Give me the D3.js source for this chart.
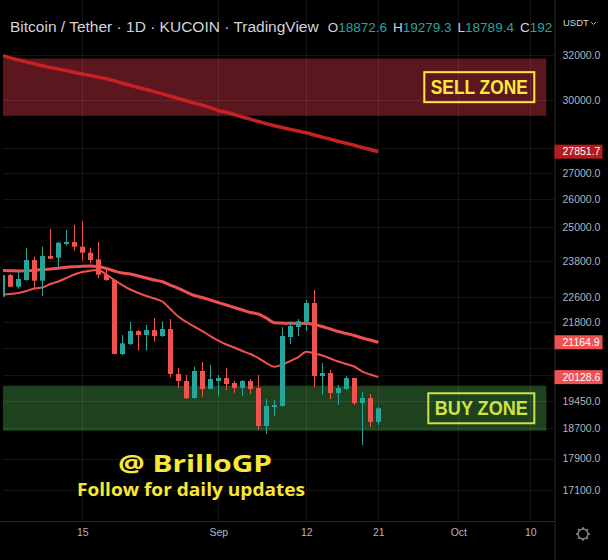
<!DOCTYPE html>
<html>
<head>
<meta charset="utf-8">
<script src="https://cdn.jsdelivr.net/npm/d3@7"></script>
<style>
  html, body { margin: 0; padding: 0; background: #000; }
  svg { display: block; }
</style>
</head>
<body>
<svg id="chart" width="608" height="560"></svg>
<script>
// daily candles, 5 Aug 2022 .. 21 Sep 2022
const firstDay = "2022-08-05";
const opens  = [22600, 23318, 22928, 23150, 23827, 23127, 23965, 23906, 24383, 24453, 24290, 24079, 23850, 23328, 23150, 20809,
                21111, 21510, 21387, 21541, 21356, 21572, 20218, 20015, 19532, 20306, 19786, 20015, 20102, 19958, 19814, 20015,
                19814, 18759, 19279, 19307, 21325, 21635, 21794, 22396, 20160, 20247, 19673, 19786, 20102, 19391, 19531, 18872.6];
const highs  = [23487, 23351, 23429, 24253, 23941, 24288, 24916, 24450, 24880, 25060, 25204, 24243, 24453, 23510, 23184, 21387,
                21801, 21540, 21697, 21917, 21812, 21885, 20394, 20195, 20432, 20571, 20482, 20189, 20403, 20015, 20044, 20073,
                20189, 19503, 19475, 21635, 21812, 21885, 22493, 22819, 20541, 20335, 19900, 20160, 20110, 19700, 19644, 19279.3];
const lows   = [22580, 22906, 22862, 23130, 22875, 22623, 23860, 23578, 24323, 24149, 23803, 23714, 23207, 23117, 20800, 20780,
                21080, 20908, 20908, 21181, 21325, 20122, 19814, 19510, 19520, 19568, 19780, 19596, 19757, 19673, 19587, 19644,
                18651, 18544, 19031, 19300, 21111, 21356, 21510, 19843, 19616, 19503, 19335, 19757, 19335, 18252, 18730, 18789.4];
const closes = [23318, 22928, 23184, 23827, 23127, 23965, 23872, 24428, 24453, 24288, 24079, 23827, 23328, 23150, 20809, 21132,
                21510, 21387, 21541, 21356, 21572, 20218, 20015, 19523, 20306, 19786, 20073, 20102, 19929, 19814, 20015, 19786,
                18759, 19307, 19335, 21356, 21666, 21812, 22396, 20160, 20247, 19673, 19814, 20102, 19391, 19531, 18872.6, 19245.0];

// moving averages
const maLong = [31980, 31880, 31790, 31700, 31610, 31520, 31440, 31370, 31300, 31220, 31150, 31080, 31010, 30940, 30840, 30740,
                30650, 30550, 30460, 30370, 30270, 30170, 30070, 29970, 29870, 29780, 29680, 29550, 29480, 29380, 29280, 29190,
                29090, 29000, 28910, 28840, 28760, 28690, 28620, 28530, 28440, 28360, 28270, 28190, 28110, 28020, 27940, 27851.7];
const maSlow = [23469, 23463, 23453, 23463, 23476, 23497, 23520, 23544, 23578, 23598, 23615, 23622, 23605, 23537, 23453, 23385,
                23351, 23284, 23217, 23150, 23094, 22984, 22875, 22754, 22639, 22574, 22493, 22412, 22331, 22251, 22171, 22091,
                22044, 21917, 21769, 21760, 21750, 21750, 21744, 21713, 21650, 21572, 21495, 21433, 21371, 21294, 21233, 21164.9];
const maFast = [22672, 22688, 22721, 22786, 22869, 22901, 23017, 23100, 23217, 23334, 23419, 23463, 23487, 23334, 23150, 22984,
                22836, 22721, 22623, 22541, 22444, 22203, 21964, 21791, 21650, 21510, 21356, 21218, 21096, 21005, 20899, 20809,
                20690, 20541, 20432, 20497, 20600, 20719, 20878, 20824, 20764, 20675, 20586, 20512, 20438, 20291, 20204, 20128.6];

const priceTicks = [32000, 30000, 28000, 27000, 26000, 25000, 23800, 22600, 21800, 21000, 20200, 19450, 18700, 17900, 17100];
const dateTicks = ["2022-08-15", "2022-09-01", "2022-09-12", "2022-09-21", "2022-10-01", "2022-10-10"];
const dateTickLabels = ["15", "Sep", "12", "21", "Oct", "10"];

const zoneNames = ["SELL ZONE", "BUY ZONE"];
const zoneTops = [31850, 19880];
const zoneBottoms = [29330, 18630];
const zoneEnd = "2022-10-12";

const parseDay = d3.utcParse("%Y-%m-%d");
const days = d3.utcDay.range(parseDay(firstDay), d3.utcDay.offset(parseDay(firstDay), opens.length));

const plot = { left: 3, right: 554.5, top: 0, bottom: 521 };
const up = "#26a69a", down = "#ef5350";

const svg = d3.select("#chart");
svg.append("rect").attr("width", 608).attr("height", 560).attr("fill", "#000");

const x = d3.scaleUtc()
    .domain([parseDay("2022-08-05"), parseDay("2022-10-10")])
    .range([2.3, 530.3]);
const y = d3.scaleLog()
    .domain([17100, 32000])
    .range([490.3, 55.3]);

svg.append("clipPath").attr("id", "plot-clip")
  .append("rect")
    .attr("x", plot.left).attr("y", plot.top)
    .attr("width", plot.right - plot.left).attr("height", plot.bottom - plot.top);

const g = svg.append("g").attr("clip-path", "url(#plot-clip)");

// zones
const zoneColors = ["#5c161e", "#1e421e"];
g.selectAll("rect.zone")
  .data(zoneNames)
  .join("rect")
    .attr("class", "zone")
    .attr("x", plot.left)
    .attr("width", (d, i) => x(parseDay(zoneEnd)) - plot.left)
    .attr("y", (d, i) => y(zoneTops[i]))
    .attr("height", (d, i) => y(zoneBottoms[i]) - y(zoneTops[i]))
    .attr("fill", (d, i) => zoneColors[i]);

// grid
g.selectAll("line.hgrid")
  .data(priceTicks)
  .join("line")
    .attr("class", "hgrid")
    .attr("x1", plot.left).attr("x2", plot.right)
    .attr("y1", d => Math.round(y(d)) + 0.5).attr("y2", d => Math.round(y(d)) + 0.5)
    .attr("stroke", "rgba(255,255,255,0.08)");
g.selectAll("line.vgrid")
  .data(dateTicks)
  .join("line")
    .attr("class", "vgrid")
    .attr("x1", d => Math.round(x(parseDay(d))) + 0.5).attr("x2", d => Math.round(x(parseDay(d))) + 0.5)
    .attr("y1", plot.top).attr("y2", plot.bottom)
    .attr("stroke", "rgba(255,255,255,0.08)");

// moving averages
function maLine(values) {
    return d3.line()
        .x((d, i) => x(days[i]))
        .y(d => y(d))
        .curve(d3.curveMonotoneX)(values);
}
g.append("path").attr("d", maLine(maLong)).attr("fill", "none").attr("stroke", "#c62222").attr("stroke-width", 3.5);
g.append("path").attr("d", maLine(maSlow)).attr("fill", "none").attr("stroke", "#f05050").attr("stroke-width", 3);
g.append("path").attr("d", maLine(maFast)).attr("fill", "none").attr("stroke", "#f05050").attr("stroke-width", 2);

// candles
const candle = g.selectAll("g.candle")
  .data(days)
  .join("g")
    .attr("class", "candle")
    .attr("fill", (d, i) => closes[i] >= opens[i] ? up : down)
    .attr("stroke", (d, i) => closes[i] >= opens[i] ? up : down);
candle.append("line")
    .attr("x1", d => Math.round(x(d)) + 0.5).attr("x2", d => Math.round(x(d)) + 0.5)
    .attr("y1", (d, i) => y(highs[i])).attr("y2", (d, i) => y(lows[i]))
    .attr("stroke-width", 1);
candle.append("rect")
    .attr("stroke", "none")
    .attr("x", d => Math.round(x(d)) - 2)
    .attr("width", 5)
    .attr("y", (d, i) => y(Math.max(opens[i], closes[i])))
    .attr("height", (d, i) => Math.max(1.5, Math.abs(y(opens[i]) - y(closes[i]))));

// zone labels
const zoneLabelColors = ["#ffe93a", "#cde346"];
const zoneLabelWidths = [110, 106];
const zoneLabel = svg.selectAll("g.zone-label")
  .data(zoneNames)
  .join("g")
    .attr("class", "zone-label")
    .attr("transform", (d, i) => {
        const mid = (y(zoneTops[i]) + y(zoneBottoms[i])) / 2;
        return `translate(${x(parseDay(zoneEnd)) - 12 - zoneLabelWidths[i]},${mid - 15})`;
    });
zoneLabel.append("rect")
    .attr("width", (d, i) => zoneLabelWidths[i]).attr("height", 30)
    .attr("fill", "none")
    .attr("stroke", (d, i) => zoneLabelColors[i])
    .attr("stroke-width", 2);
zoneLabel.append("text")
    .attr("x", (d, i) => zoneLabelWidths[i] / 2).attr("y", 22)
    .attr("text-anchor", "middle")
    .attr("font-family", "Liberation Sans, Arial, sans-serif")
    .attr("font-weight", "bold")
    .attr("font-size", 20)
    .attr("textLength", (d, i) => zoneLabelWidths[i] - 13)
    .attr("lengthAdjust", "spacingAndGlyphs")
    .attr("fill", (d, i) => zoneLabelColors[i])
    .text(d => d);

// watermark
svg.append("text")
    .attr("x", 195).attr("y", 472)
    .attr("text-anchor", "middle")
    .attr("font-family", "Open Sans, sans-serif").attr("font-weight", "bold").attr("font-size", 24)
    .attr("textLength", 154).attr("lengthAdjust", "spacingAndGlyphs")
    .attr("fill", "#f9e735")
    .text("@ BrilloGP");
svg.append("text")
    .attr("x", 191).attr("y", 496)
    .attr("text-anchor", "middle")
    .attr("font-family", "Open Sans, sans-serif").attr("font-weight", "bold").attr("font-size", 17.5)
    .attr("textLength", 228).attr("lengthAdjust", "spacingAndGlyphs")
    .attr("fill", "#f9e735")
    .text("Follow for daily updates");

// header (cut by the price scale, as in the app)
const last = opens.length - 1;
const head = svg.append("text")
    .attr("x", 10).attr("y", 32)
    .attr("font-family", "Liberation Sans, Arial, sans-serif")
    .attr("font-size", 15.5)
    .attr("fill", "#d1d4dc");
head.append("tspan").text("Bitcoin / Tether · 1D · KUCOIN · TradingView");
const ohlc = [["O", opens[last]], ["H", highs[last]], ["L", lows[last]], ["C", closes[last]]];
ohlc.forEach(([k, v], i) => {
    const s = v.toFixed(1);
    head.append("tspan").attr("dx", i === 0 ? 9 : 6).attr("font-size", 13.5).text(k);
    head.append("tspan").attr("font-size", 13.5)
        .attr("fill", closes[last] >= opens[last] ? up : down)
        .text(i === 3 ? s.slice(0, 3) : s);
});

// right axis
const axisFont = "Liberation Sans, Arial, sans-serif";
svg.append("rect")
    .attr("x", plot.right).attr("y", 0).attr("width", 608 - plot.right).attr("height", 560)
    .attr("fill", "#000");
svg.append("line")
    .attr("x1", plot.right + 0.5).attr("x2", plot.right + 0.5)
    .attr("y1", 0).attr("y2", 560)
    .attr("stroke", "#2a2a2a");
svg.append("line")
    .attr("x1", 0).attr("x2", plot.right)
    .attr("y1", plot.bottom + 0.5).attr("y2", plot.bottom + 0.5)
    .attr("stroke", "#2a2a2a");

const lastValues = [maLong[last], maSlow[last], maFast[last]];
const lastColors = ["#b71c1c", "#f05252", "#f05252"];

// tick labels hidden under a last-value tag are not drawn
const yAxis = svg.append("g")
    .attr("transform", `translate(${plot.right},0)`)
    .call(d3.axisRight(y).tickValues(priceTicks).tickFormat(d => d.toFixed(1)).tickSize(0).tickPadding(8));
yAxis.select(".domain").remove();
yAxis.selectAll("text").attr("fill", "#b2b5be").attr("font-family", axisFont).attr("font-size", 10.5);
yAxis.selectAll(".tick")
    .filter(d => lastValues.some(v => Math.abs(y(v) - y(d)) < 10))
    .remove();

const xAxis = svg.append("g")
    .attr("transform", `translate(0,${plot.bottom})`)
    .call(d3.axisBottom(x).tickValues(dateTicks.map(parseDay))
        .tickFormat((d, i) => dateTickLabels[i]).tickSize(0).tickPadding(8));
xAxis.select(".domain").remove();
xAxis.selectAll("text").attr("fill", "#b2b5be").attr("font-family", axisFont).attr("font-size", 10.5);

// last value tags
const tag = svg.selectAll("g.last-tag")
  .data(lastValues)
  .join("g")
    .attr("class", "last-tag")
    .attr("transform", d => `translate(${plot.right},${y(d)})`);
tag.append("rect")
    .attr("x", 0).attr("y", -7).attr("width", 48).attr("height", 14)
    .attr("fill", (d, i) => lastColors[i]);
tag.append("text")
    .attr("x", 8).attr("dy", "0.35em")
    .attr("fill", "#fff").attr("font-family", axisFont).attr("font-size", 10.5)
    .text(d => d.toFixed(1));

// currency + settings
svg.append("text")
    .attr("x", 563).attr("y", 26)
    .attr("fill", "#d1d4dc").attr("font-family", axisFont).attr("font-size", 9.5)
    .text("USDT");
svg.append("path")
    .attr("d", "M591,22 l2.5,2.5 l2.5,-2.5")
    .attr("fill", "none").attr("stroke", "#b2b5be").attr("stroke-width", 1);
const gear = svg.append("g").attr("transform", "translate(583,534)")
    .attr("stroke", "#8a8d96").attr("fill", "none");
gear.append("circle").attr("r", 5).attr("stroke-width", 1.3);
d3.range(8).forEach(k => {
    const a = k * Math.PI / 4;
    gear.append("line")
        .attr("x1", Math.cos(a) * 5).attr("y1", Math.sin(a) * 5)
        .attr("x2", Math.cos(a) * 7).attr("y2", Math.sin(a) * 7)
        .attr("stroke-width", 1.3);
});
</script>
</body>
</html>
